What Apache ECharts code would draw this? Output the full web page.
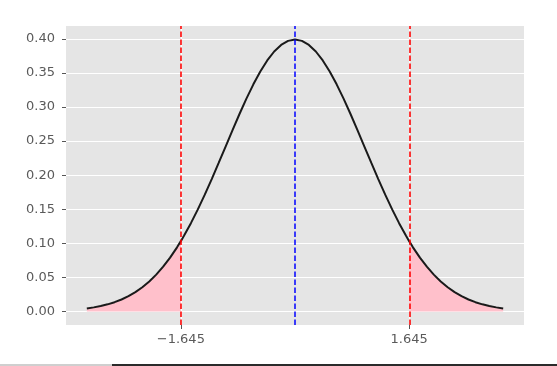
<!DOCTYPE html>
<html>
<head>
<meta charset="utf-8">
<script src="https://cdn.jsdelivr.net/npm/echarts@6/dist/echarts.min.js"></script>
<style>
html,body{margin:0;padding:0;background:#fff;}
#chart{width:557px;height:366px;}
</style>
</head>
<body>
<div id="chart"></div>
<script>
// x positions of the curve samples
var xs = [-3.0,-2.9,-2.8,-2.7,-2.6,-2.5,-2.4,-2.3,-2.2,-2.1,-2.0,-1.9,-1.8,-1.7,-1.645,-1.6,-1.5,-1.4,-1.3,-1.2,-1.1,-1.0,-0.9,-0.8,-0.7,-0.6,-0.5,-0.4,-0.3,-0.2,-0.1,0.0,0.1,0.2,0.3,0.4,0.5,0.6,0.7,0.8,0.9,1.0,1.1,1.2,1.3,1.4,1.5,1.6,1.645,1.7,1.8,1.9,2.0,2.1,2.2,2.3,2.4,2.5,2.6,2.7,2.8,2.9,3.0];
// density values
var ys = [0.00443,0.00595,0.00792,0.01042,0.01358,0.01753,0.02239,0.02833,0.03547,0.04398,0.05399,0.06562,0.07895,0.09405,0.10314,0.11092,0.12952,0.14973,0.17137,0.19419,0.21785,0.24197,0.26609,0.28969,0.31225,0.33322,0.35207,0.36827,0.38139,0.39104,0.39695,0.39894,0.39695,0.39104,0.38139,0.36827,0.35207,0.33322,0.31225,0.28969,0.26609,0.24197,0.21785,0.19419,0.17137,0.14973,0.12952,0.11092,0.10314,0.09405,0.07895,0.06562,0.05399,0.04398,0.03547,0.02833,0.02239,0.01753,0.01358,0.01042,0.00792,0.00595,0.00443];
var critical = [-1.645, 1.645];
var centre = [0];
var xTicks = [-1.645, 1.645];
var xTickLabels = ['\u22121.645', '1.645'];
var yTicks = [0,0.05,0.10,0.15,0.20,0.25,0.30,0.35,0.40];
var yTickLabels = ['0.00','0.05','0.10','0.15','0.20','0.25','0.30','0.35','0.40'];

var curve = xs.map(function(x,i){return [x, ys[i]];});
var leftTail = curve.filter(function(p){return p[0] <= critical[0];});
var rightTail = curve.filter(function(p){return p[0] >= critical[1];});

var chart = echarts.init(document.getElementById('chart'), null, {renderer:'canvas'});
var font = 'DejaVu Sans';
chart.setOption({
  animation:false,
  backgroundColor:'#ffffff',
  grid:{left:66,right:33,top:26,bottom:41,show:true,backgroundColor:'#E5E5E5',borderWidth:0},
  xAxis:{
    type:'value', min:-3.3, max:3.3,
    axisLine:{show:false,onZero:false},
    axisTick:{show:true,length:4,lineStyle:{color:'#555555',width:1},customValues:xTicks},
    axisLabel:{show:true,color:'#5a5a5a',fontFamily:font,fontSize:13,margin:8,customValues:xTicks,
      formatter:function(v){var i=xTicks.indexOf(v);return i>=0?xTickLabels[i]:'';}},
    splitLine:{show:true,lineStyle:{color:'#ffffff',width:1}}
  },
  yAxis:{
    type:'value', min:-0.0199, max:0.4188,
    axisLine:{show:false,onZero:false},
    axisTick:{show:true,length:4,lineStyle:{color:'#555555',width:1},customValues:yTicks},
    axisLabel:{show:true,color:'#5a5a5a',fontFamily:font,fontSize:13,margin:11,customValues:yTicks,
      formatter:function(v){for(var i=0;i<yTicks.length;i++){if(Math.abs(yTicks[i]-v)<1e-6)return yTickLabels[i];}return '';}},
    splitLine:{show:true,lineStyle:{color:'#ffffff',width:1}}
  },
  series:[
    {type:'line',data:leftTail,symbol:'none',lineStyle:{width:0},areaStyle:{color:'#FFC0CB',opacity:1,origin:0},z:2,silent:true},
    {type:'line',data:rightTail,symbol:'none',lineStyle:{width:0},areaStyle:{color:'#FFC0CB',opacity:1,origin:0},z:2,silent:true},
    {type:'line',data:curve,symbol:'none',lineStyle:{color:'#1a1a1a',width:2},z:3,silent:true},
    {type:'line',data:[],z:4,silent:true,
      markLine:{silent:true,symbol:['none','none'],label:{show:false},
        data:critical.map(function(v){return {xAxis:v,lineStyle:{color:'rgba(255,0,0,0.78)',width:2,type:[5.5,2.5]}};})
          .concat(centre.map(function(v){return {xAxis:v,lineStyle:{color:'rgba(0,0,255,0.75)',width:2,type:[5.5,2.5]}};}))
      }}
  ],
  graphic:[
    {type:'rect',shape:{x:0,y:364,width:112,height:2},style:{fill:'#cfcfcf'},silent:true},
    {type:'rect',shape:{x:112,y:364,width:445,height:2},style:{fill:'#2b2b2b'},silent:true}
  ]
});
</script>
</body>
</html>
